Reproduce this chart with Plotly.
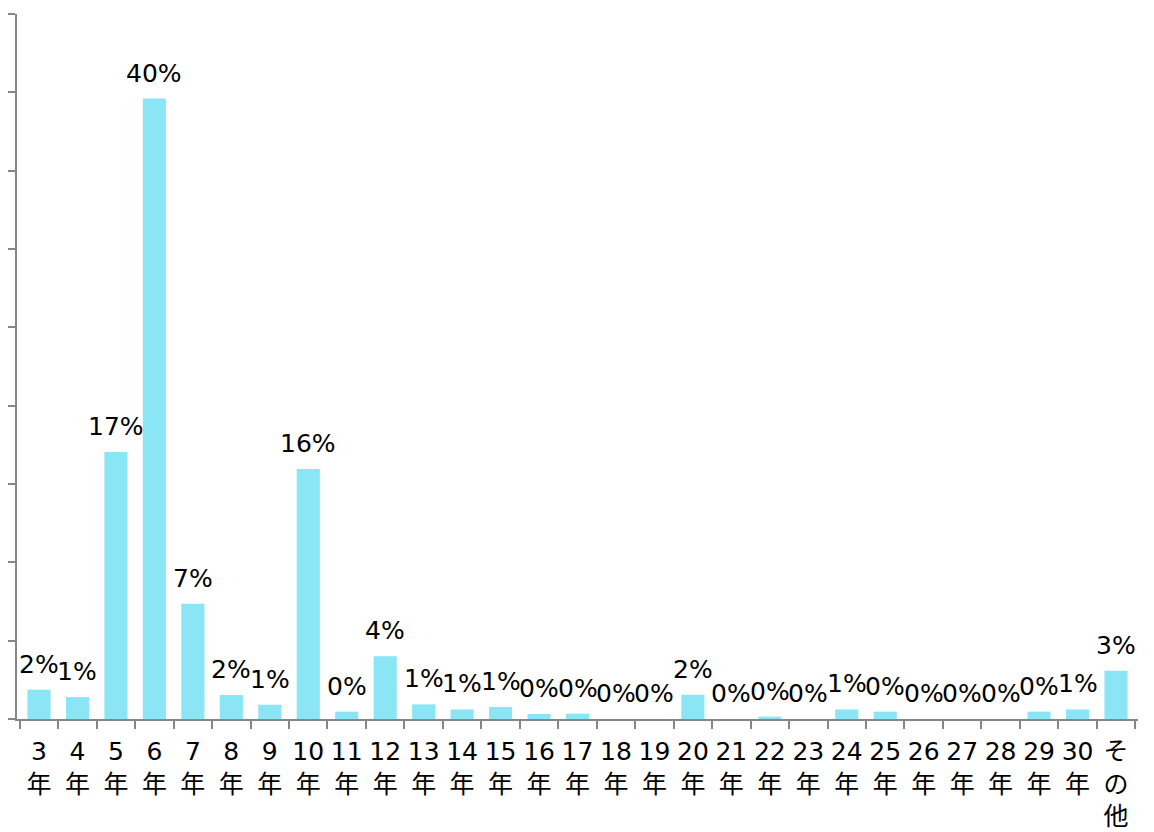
import plotly.graph_objects as go

categories = ["3<br>年", "4<br>年", "5<br>年", "6<br>年", "7<br>年", "8<br>年", "9<br>年",
              "10<br>年", "11<br>年", "12<br>年", "13<br>年", "14<br>年", "15<br>年",
              "16<br>年", "17<br>年", "18<br>年", "19<br>年", "20<br>年", "21<br>年",
              "22<br>年", "23<br>年", "24<br>年", "25<br>年", "26<br>年", "27<br>年",
              "28<br>年", "29<br>年", "30<br>年", "そ<br>の<br>他"]
values = [1.87, 1.40, 17.05, 39.6, 7.35, 1.53, 0.91, 15.95, 0.47, 4.0, 0.93, 0.61, 0.77,
          0.32, 0.34, 0.0, 0.0, 1.55, 0.0, 0.15, 0.0, 0.61, 0.47, 0.0, 0.0, 0.0,
          0.47, 0.61, 3.08]
labels = [f"{round(v):.0f}%" for v in values]
y_ticks = [0, 5, 10, 15, 20, 25, 30, 35, 40, 45]

FONT = "DejaVu Sans, Noto Sans CJK JP, sans-serif"
AXIS = "#868686"

fig = go.Figure(go.Bar(
    x=categories, y=values,
    marker=dict(color="#8AE5F5", line=dict(width=0)),
    width=0.6,
    hoverinfo="skip",
))

for c, v, t in zip(categories, values, labels):
    fig.add_annotation(x=c, y=v, text=t, showarrow=False, yanchor="bottom",
                       yshift=9, font=dict(size=25, color="black", family=FONT))

fig.update_layout(
    width=1146, height=824,
    margin=dict(l=9, r=16, t=6, b=113, autoexpand=False),
    plot_bgcolor="white", paper_bgcolor="white",
    showlegend=False,
    font=dict(family=FONT, size=25, color="black"),
    xaxis=dict(
        automargin=False, tickangle=0, ticklabelstandoff=9,
        showline=True, linecolor=AXIS, linewidth=2,
        ticks="outside", tickson="boundaries", ticklen=8, tickcolor=AXIS, tickwidth=2,
        tickfont=dict(size=25, color="black", family=FONT),
        showgrid=False, zeroline=False,
    ),
    yaxis=dict(
        automargin=False,
        range=[0, 45], tickvals=y_ticks, showticklabels=False,
        showline=True, linecolor=AXIS, linewidth=2,
        ticks="outside", ticklen=9, tickcolor=AXIS, tickwidth=2,
        showgrid=False, zeroline=False,
    ),
)

fig.write_html("out.html")
